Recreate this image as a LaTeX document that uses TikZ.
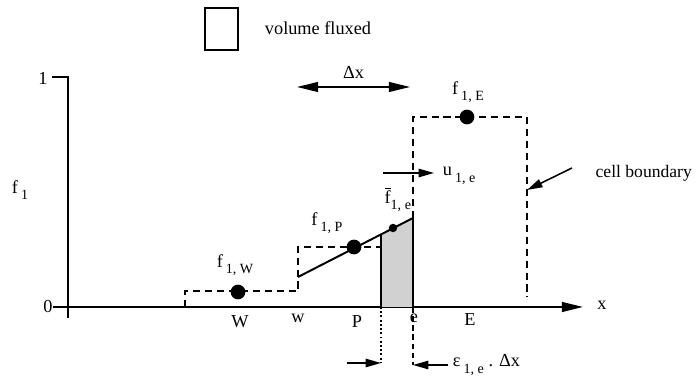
\documentclass[tikz,border=0pt]{standalone}
\usepackage{fontspec}
\setmainfont{Liberation Serif}
\usetikzlibrary{arrows.meta}
\newcommand{\lowidx}[2]{#1\,\raisebox{-0.75ex}{\fontsize{10}{12}\selectfont #2}}
\newcommand{\barf}{\rlap{\kern0.02em\raisebox{1.75ex}{\rule{0.33em}{0.6pt}}}f}

\begin{document}
\begin{tikzpicture}[font=\fontsize{13}{15}\selectfont,x=0.025cm,y=0.025cm,
  axisline/.style={line width=1.3pt},
  cellline/.style={line width=1.6pt,dash pattern=on 5pt off 3.5pt},
  recon/.style={line width=1.4pt},
  bigdot/.style={circle,fill=black,inner sep=0pt,minimum size=10.5pt},
  smalldot/.style={circle,fill=black,inner sep=0pt,minimum size=6pt},
  bigtip/.style={-{Triangle[length=15pt,width=7pt]}},
  smalltip/.style={-{Triangle[length=11pt,width=6pt]}}]
\useasboundingbox (-68,-72) rectangle (630,307);
% axes
\coordinate (ytick) at (-16,230);
\coordinate (ytop) at (0,230);
\coordinate (ybot) at (0,-11);
\coordinate (xstart) at (-15,0);
\coordinate (xend) at (515,0);
\draw[axisline] (ytick) -- (ytop) -- (ybot);
\draw[axisline,bigtip] (xstart) -- (xend);
\node (one) at (-25,229) {1};
\node (zero) at (-20,0) {0};
\node (xlab) at (534,2) {x};
\node (flab) at (-48,117) {\lowidx{f}{1}};
% legend
\node[draw,line width=1.3pt,minimum width=23.5pt,minimum height=30pt] (legbox) at (153.5,278) {};
\node[anchor=west] (leglab) at (192,279) {volume fluxed};
% cells
\fill[black!18] (313,0) -- (313,72.6) -- (345,89) -- (345,0) -- cycle;
\draw[cellline] (117,0) -- (117,16) -- (230,16) -- (230,60) -- (313,60);
\draw[cellline] (345,89) -- (345,190) -- (459,190) -- (459,10);
\draw[recon] (230,30) -- (345,89);
\draw[recon] (313,0) -- (313,72.6);
\draw[recon] (345,0) -- (345,89);
% cell values
\node[bigdot] (fW) at (170,15) {};
\node[bigdot] (fP) at (286,60) {};
\node[smalldot] (fe) at (325,79) {};
\node[bigdot] (fE) at (399,190) {};
\node (fWlab) at (167,42) {\lowidx{f}{1, W}};
\node (fPlab) at (259,84) {\lowidx{f}{1, P}};
\node[anchor=east,inner sep=0.5pt] (felab) at (344,107) {\barf\raisebox{-0.75ex}{\fontsize{10}{12}\selectfont 1, e}};
\node (fElab) at (400,215) {\lowidx{f}{1, E}};
% positions on the axis
\node (Wlab) at (172,-15) {W};
\node (wlab) at (230,-11) {w};
\node (Plab) at (289,-15) {P};
\node (elab) at (346,-11) {e};
\node (Elab) at (402,-13) {E};
% cell width
\coordinate (dxl) at (229,220);
\coordinate (dxr) at (342,220);
\draw[line width=1.1pt,{Triangle[length=15pt,width=7pt]}-{Triangle[length=15pt,width=7pt]}] (dxl) -- (dxr);
\node (dxlab) at (285.5,235) {Δx};
% velocity
\coordinate (utail) at (315,134);
\coordinate (utip) at (366,134);
\node[anchor=west] (ulab) at (370,131) {\lowidx{u}{1, e}};
\draw[line width=1.1pt,smalltip] (utail) -- (utip);
% cell boundary
\coordinate (cbtail) at (504,139);
\coordinate (cbtip) at (459,117);
\node[anchor=west,inner sep=1pt] (cblab) at (526,134) {\fontsize{12.5}{15}\selectfont cell boundary};
\draw[line width=1.1pt,smalltip] (cbtail) -- (cbtip);
% fluxed distance
\coordinate (pdown) at (313,-56);
\coordinate (ptail) at (279,-56);
\coordinate (edown) at (345,-58);
\draw[line width=1.4pt,dash pattern=on 1.4pt off 1.6pt] (313,0) -- (pdown);
\draw[line width=1.1pt,smalltip] (ptail) -- (pdown);
\draw[line width=1.4pt,dash pattern=on 4pt off 2.5pt] (345,0) -- (edown);
\node[anchor=west] (epslab) at (380,-58) {\lowidx{ε}{1, e} . Δx};
\draw[line width=1.1pt,smalltip] (epslab.west |- edown) -- (edown);
\end{tikzpicture}
\end{document}
